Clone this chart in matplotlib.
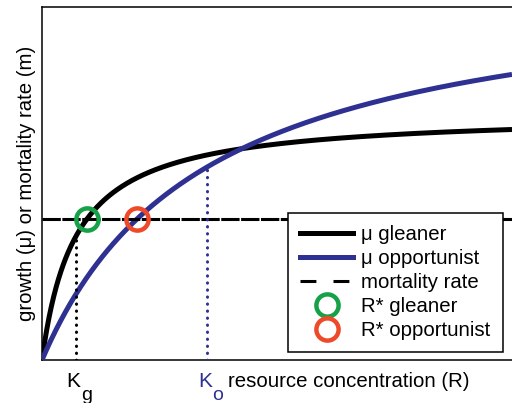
import numpy as np
import matplotlib
matplotlib.use("Agg")
import matplotlib.pyplot as plt
from matplotlib.lines import Line2D

plt.rcParams['font.family'] = ['Liberation Sans', 'DejaVu Sans']

# Monod parameters (x: 0-10, y: 0-1)
species = ["gleaner", "opportunist"]
mu_max = [0.70, 1.093]
half_sat = [0.72, 3.51]
mortality = 0.40
curve_colors = ["black", "#2e3192"]
rstar_colors = ["#16a047", "#ee4a2a"]
k_labels = ["g", "o"]

R = np.linspace(0, 10, 600)

def monod(r, mmax, k):
    return mmax * r / (k + r)

fig = plt.figure(figsize=(5.12, 4.03), dpi=100)
ax = fig.add_axes([42 / 512, 43 / 403, 470 / 512, 353 / 403])

# growth curves
for name, mm, k, c in zip(species, mu_max, half_sat, curve_colors):
    ax.plot(R, monod(R, mm, k), color=c, lw=3.6, solid_capstyle='butt', zorder=3)

# mortality line
ax.axhline(mortality, color='black', lw=2.2, dashes=(6, 0.5), zorder=4)

# half saturation markers
for mm, k, c in zip(mu_max, half_sat, curve_colors):
    ax.plot([k, k], [0, monod(k, mm, k)], color=c, lw=2.2, ls=(0, (0.1, 2.2)),
            dash_capstyle='round', zorder=5)

# R* points
for mm, k, c in zip(mu_max, half_sat, rstar_colors):
    rstar = k * mortality / (mm - mortality)
    ax.plot(rstar, mortality, 'o', ms=16, mfc='none', mec=c, mew=3.2, zorder=6)

ax.set_xlim(0, 10)
ax.set_ylim(0, 1)
ax.set_xticks([])
ax.set_yticks([])
for s in ['left', 'bottom', 'top']:
    ax.spines[s].set_linewidth(1.1)
ax.spines['right'].set_visible(False)

ax.set_ylabel("growth (\u03bc) or mortality rate (m)", fontsize=14.7, labelpad=4)

# K labels
for k, c, sub in zip(half_sat, curve_colors, k_labels):
    ax.annotate("K", xy=(k, 0), xycoords='data', xytext=(3.5, -19.5),
                textcoords='offset points', ha='right', va='baseline',
                fontsize=15, color=c)
    ax.annotate(sub, xy=(k, 0), xycoords='data', xytext=(3.5, -28.5),
                textcoords='offset points', ha='left', va='baseline',
                fontsize=14, color=c)

ax.annotate("resource concentration (R)", xy=(3.95, 0), xycoords='data',
            xytext=(0, -19.5), textcoords='offset points', ha='left',
            va='baseline', fontsize=14.7)

handles = [
    Line2D([], [], color='black', lw=3.6),
    Line2D([], [], color=curve_colors[1], lw=3.6),
    Line2D([], [], color='black', lw=2.2, dashes=(5.2, 5.6)),
    Line2D([], [], ls='none', marker='o', ms=16, mfc='none', mec=rstar_colors[0], mew=3.2),
    Line2D([], [], ls='none', marker='o', ms=16, mfc='none', mec=rstar_colors[1], mew=3.2),
]
labels = ["\u03bc gleaner", "\u03bc opportunist", "mortality rate",
          "R* gleaner", "R* opportunist"]
leg = ax.legend(handles, labels, loc='lower left',
                bbox_to_anchor=((288 - 42) / 470, (360 - 352) / 353),
                borderaxespad=0, fontsize=14.7, frameon=True, fancybox=False,
                edgecolor='black', framealpha=1, handlelength=2.6,
                handletextpad=0.38, labelspacing=0.24, borderpad=0.6)
leg.get_frame().set_linewidth(1.1)
leg.set_zorder(10)

fig.savefig("out.png", dpi=100)
